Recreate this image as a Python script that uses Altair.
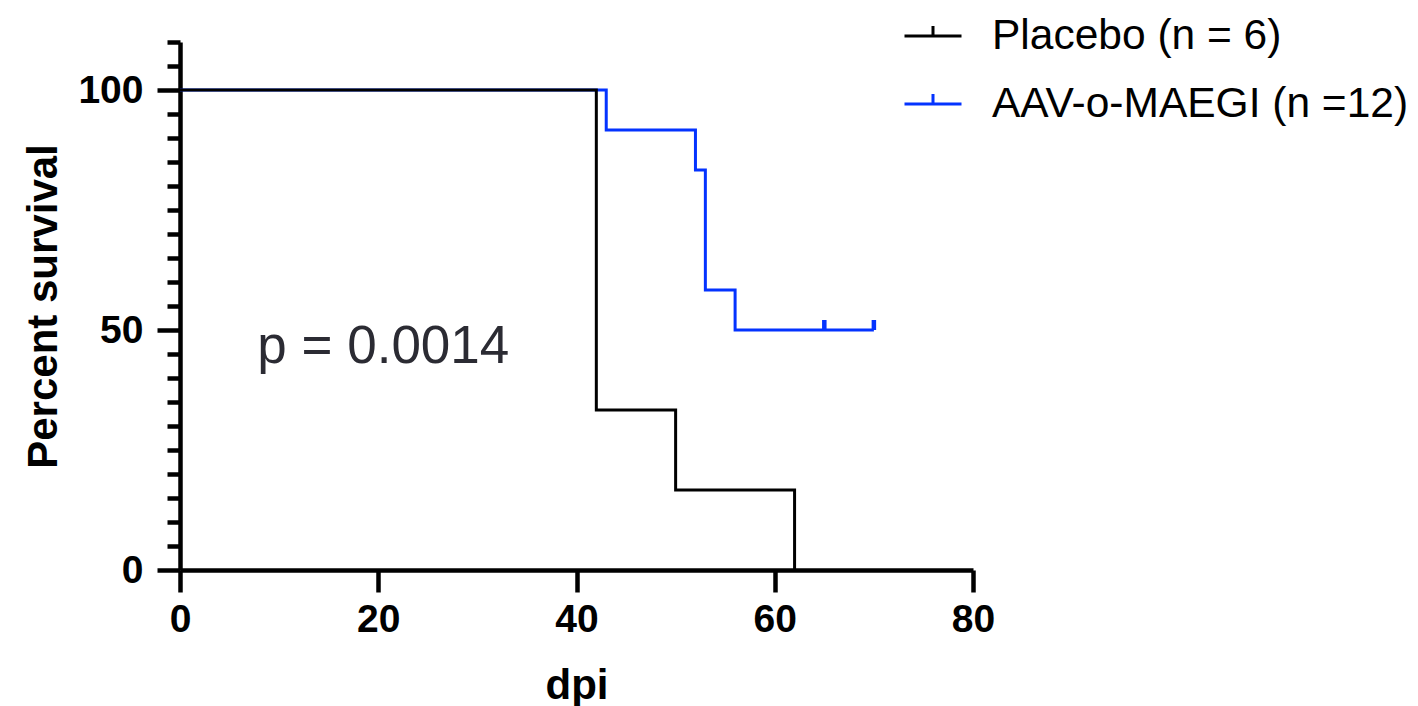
import altair as alt
import pandas as pd

# ---- data ----
placebo_label = "Placebo (n = 6)"
aav_label = "AAV-o-MAEGI (n =12)"

placebo_days = [0, 42, 50, 62]
placebo_surv = [100, 33.33, 16.67, 0]

aav_days = [0, 43, 52, 53, 56, 70]
aav_surv = [100, 91.67, 83.33, 58.33, 50, 50]

aav_censor_days = [65, 70]
aav_censor_surv = [50, 50]

x_ticks = [0, 20, 40, 60, 80]
y_ticks = list(range(0, 111, 5))

annot_x = [7.8]
annot_y = [43.1]
annot_text = ["p = 0.0014"]

BLUE = "#0433FF"
FONT = "Liberation Sans"

placebo_df = pd.DataFrame({"dpi": placebo_days, "surv": placebo_surv, "group": placebo_label})
aav_df = pd.DataFrame({"dpi": aav_days, "surv": aav_surv, "group": aav_label})
censor_df = pd.DataFrame({"dpi": aav_censor_days, "surv": aav_censor_surv})
annot_df = pd.DataFrame({"x": annot_x, "y": annot_y, "t": annot_text})

x_enc = alt.X(
    "dpi:Q",
    scale=alt.Scale(domain=[0, 80], nice=False, zero=False),
    axis=alt.Axis(
        values=x_ticks, tickCount=10, tickSize=22, tickWidth=4.5, labelPadding=8, title="dpi",
        titleY=128, titleBaseline="alphabetic", labelFlush=False,
    ),
)
y_enc = alt.Y(
    "surv:Q",
    scale=alt.Scale(domain=[0, 110], nice=False),
    axis=alt.Axis(
        values=y_ticks, tickCount=50, tickWidth=4.5,
        tickSize={"condition": {"test": "datum.value % 50 === 0", "value": 23}, "value": 13},
        labelExpr="datum.value % 50 === 0 ? datum.label : ''",
        labelPadding=14,
        title="Percent survival",
        titleX=-124, titleY=264, titleBaseline="alphabetic", titleAngle=270,
    ),
)

legend = alt.Legend(
    title=None, orient="none", legendX=723, legendY=-36,
    symbolType="M-1,0H1M0,0V-0.35", symbolSize=3249, symbolStrokeWidth=3,
    symbolFillColor="transparent",
    labelFontSize=42.5, labelFont=FONT, labelColor="black", labelOffset=29,
    rowPadding=16, padding=0, labelLimit=600,
)
color_enc = alt.Color(
    "group:N",
    scale=alt.Scale(domain=[placebo_label, aav_label], range=["#000000", BLUE]),
    legend=legend,
)

aav_line = alt.Chart(aav_df).mark_line(interpolate="step-after", strokeWidth=3).encode(
    x=x_enc, y=y_enc, color=color_enc
)
placebo_line = alt.Chart(placebo_df).mark_line(interpolate="step-after", strokeWidth=3).encode(
    x=x_enc, y=y_enc, color=color_enc
)
censor = alt.Chart(censor_df).mark_point(
    shape="M0,0V-1", size=400, strokeWidth=4.5, color=BLUE, filled=False, opacity=1
).encode(x="dpi:Q", y="surv:Q")

annot = alt.Chart(annot_df).mark_text(
    align="left", baseline="alphabetic", fontSize=53, font=FONT, color="#2b2b33"
).encode(x="x:Q", y="y:Q", text="t:N")

chart = alt.layer(aav_line, placebo_line, censor, annot).properties(
    width=793, height=528,
    autosize=alt.AutoSizeParams(type="none"),
    padding={"left": 172, "top": 34, "right": 437, "bottom": 150},
).configure_view(stroke=None).configure_axis(
    grid=False, domainColor="black", domainWidth=4.5, tickColor="black", tickWidth=4.5,
    labelFont=FONT, labelFontWeight="bold", labelFontSize=39, labelColor="black",
    titleFont=FONT, titleFontWeight="bold", titleFontSize=42, titleColor="black",
)

chart.save("out.html", embed_options={"renderer": "svg", "actions": False})
